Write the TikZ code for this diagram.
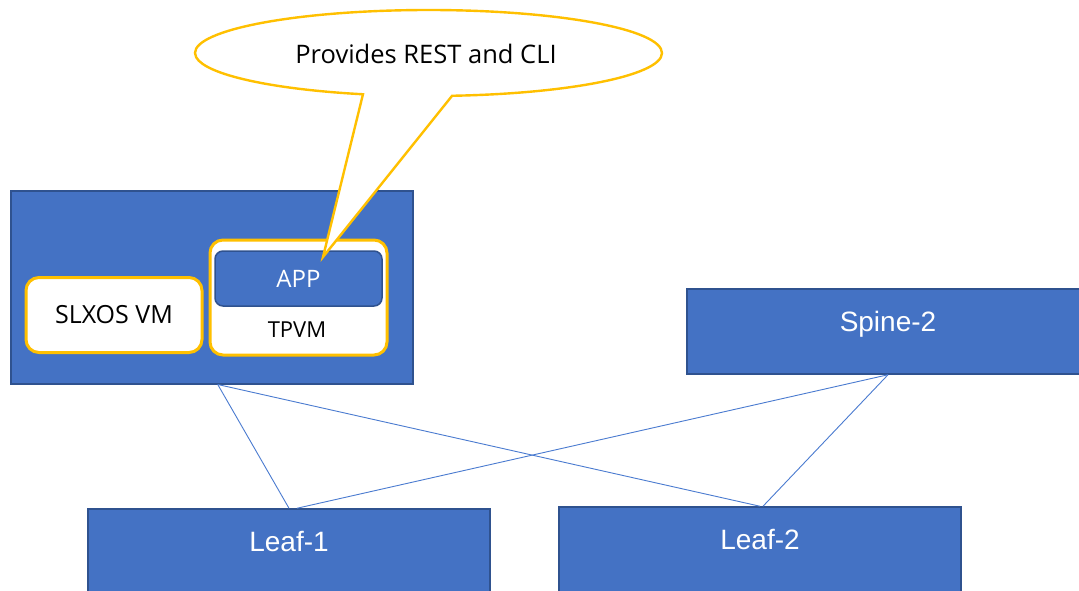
\documentclass[tikz,border=0pt]{standalone}
\usepackage{fontspec}
\setmainfont{Liberation Sans}
\newfontfamily\seg{Open Sans}
\usetikzlibrary{positioning,calc}
\definecolor{boxblue}{HTML}{4472C4}
\definecolor{boxedge}{HTML}{2F528F}
\definecolor{gold}{HTML}{FFC000}
\definecolor{linkblue}{HTML}{4A7BD0}
\begin{document}
\begin{tikzpicture}[x=1pt,y=1pt,
  bluebox/.style={draw=boxedge,fill=boxblue,line width=1.5pt,inner sep=0pt},
  netbox/.style={bluebox,minimum width=402pt,minimum height=85pt,text=white,
     font=\fontsize{28}{30}\selectfont,text height=12pt,text depth=12pt},
  vmbox/.style={draw=gold,fill=white,line width=3pt,rounded corners=13pt,inner sep=0pt},
  segtext/.style={font=\seg\fontsize{#1}{24}\selectfont,inner sep=0pt},
  link/.style={draw=linkblue,line width=0.9pt}]
\useasboundingbox (0,0) rectangle (1079,-591);
\fill[white] (0,0) rectangle (1079,-591);

% host switch
\node[bluebox,anchor=north west,minimum width=402pt,minimum height=193pt] (host) at (10,-190) {};
\node[vmbox,minimum width=176pt,minimum height=75pt,segtext=25] (slx) at (114,-315) {SLXOS VM};
\node[vmbox,minimum width=177pt,minimum height=115pt] (tpvm) at (298.5,-297.5) {};
\node[bluebox,rounded corners=8pt,minimum width=167pt,minimum height=55pt,segtext=24,text=white] (app) at (298.5,-278.5) {APP};
\node[segtext=22] (tpvmtext) at (297,-330) {TPVM};

% fabric
\node[netbox] (spine) at (888,-331.5) {Spine-2};
\node[netbox] (leaf1) at (289,-551.5) {Leaf-1};
\node[netbox] (leaf2) at (760,-549.5) {Leaf-2};

\draw[link] ([xshift=6pt]host.south) -- (leaf1.north);
\draw[link] ([xshift=6pt]host.south) -- (leaf2.north);
\draw[link] (spine.south) -- ([xshift=8pt]leaf1.north);
\draw[link] (spine.south) -- ([xshift=3pt]leaf2.north);

% callout
\coordinate (tip) at (323,-257);
\coordinate (cc) at (428.5,-53);
\draw[draw=gold,fill=white,line width=2.4pt,line join=miter]
  ($(cc)+({233.5*cos(-106.3)},{43*sin(-106.3)})$) -- (tip)
  -- ($(cc)+({233.5*cos(-84.2)},{43*sin(-84.2)})$)
  arc[start angle=-84.2,end angle=253.7,x radius=233.5,y radius=43] -- cycle;
\node[segtext=25.5] (callout) at (426,-54) {Provides REST and CLI};
\end{tikzpicture}
\end{document}
